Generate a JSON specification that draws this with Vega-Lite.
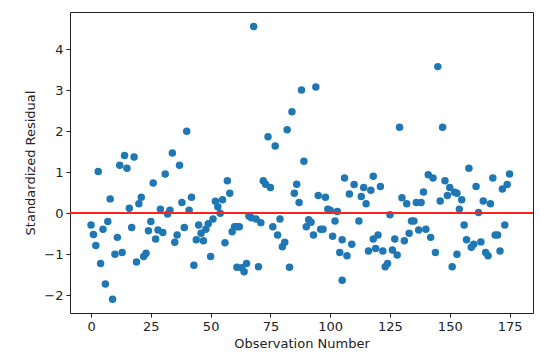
{
  "$schema": "https://vega.github.io/schema/vega-lite/v6.json",
  "width": 463,
  "height": 301,
  "autosize": {"type": "none"},
  "padding": {"left": 70, "top": 12, "right": 7, "bottom": 48},
  "background": "white",
  "config": {
    "view": {"stroke": "#222", "strokeWidth": 1},
    "font": "DejaVu Sans",
    "axis": {
      "domain": false,
      "grid": false,
      "ticks": true,
      "tickColor": "#222",
      "tickSize": 4,
      "labelFont": "DejaVu Sans",
      "labelFontSize": 13,
      "labelColor": "#222",
      "titleFont": "DejaVu Sans",
      "titleFontSize": 13,
      "titleFontWeight": "normal",
      "titleColor": "#222",
      "labelPadding": 3
    }
  },
  "data": {
    "values": [
      {"obs":0,"res":-0.29},{"obs":1,"res":-0.52},{"obs":2,"res":-0.79},{"obs":3,"res":1.02},{"obs":4,"res":-1.23},
      {"obs":5,"res":-0.39},{"obs":6,"res":-1.73},{"obs":7,"res":-0.2},{"obs":8,"res":0.35},{"obs":9,"res":-2.1},
      {"obs":10,"res":-1.0},{"obs":11,"res":-0.59},{"obs":12,"res":1.17},{"obs":13,"res":-0.96},{"obs":14,"res":1.41},
      {"obs":15,"res":1.1},{"obs":16,"res":0.12},{"obs":17,"res":-0.35},{"obs":18,"res":1.37},{"obs":19,"res":-1.19},
      {"obs":20,"res":0.23},{"obs":21,"res":0.39},{"obs":22,"res":-1.06},{"obs":23,"res":-0.98},{"obs":24,"res":-0.43},
      {"obs":25,"res":-0.2},{"obs":26,"res":0.74},{"obs":27,"res":-0.63},{"obs":28,"res":-0.41},{"obs":29,"res":0.1},
      {"obs":30,"res":-0.47},{"obs":31,"res":0.96},{"obs":32,"res":-0.02},{"obs":33,"res":0.07},{"obs":34,"res":1.47},
      {"obs":35,"res":-0.71},{"obs":36,"res":-0.53},{"obs":37,"res":1.17},{"obs":38,"res":0.26},{"obs":39,"res":-0.35},
      {"obs":40,"res":2.0},{"obs":41,"res":0.07},{"obs":42,"res":0.39},{"obs":43,"res":-1.27},{"obs":44,"res":-0.65},
      {"obs":45,"res":-0.29},{"obs":46,"res":-0.49},{"obs":47,"res":-0.67},{"obs":48,"res":-0.39},{"obs":49,"res":-0.26},
      {"obs":50,"res":-1.06},{"obs":51,"res":-0.14},{"obs":52,"res":0.29},{"obs":53,"res":0.16},{"obs":54,"res":0.0},
      {"obs":55,"res":0.33},{"obs":56,"res":-0.72},{"obs":57,"res":0.79},{"obs":58,"res":0.49},{"obs":59,"res":-0.45},
      {"obs":60,"res":-0.33},{"obs":61,"res":-1.32},{"obs":61,"res":-0.33},{"obs":62,"res":-0.33},{"obs":63,"res":-1.33},
      {"obs":64,"res":-1.43},{"obs":65,"res":-1.23},{"obs":66,"res":-0.07},{"obs":67,"res":-0.11},{"obs":68,"res":4.56},
      {"obs":69,"res":-0.14},{"obs":70,"res":-1.31},{"obs":71,"res":-0.23},{"obs":72,"res":0.79},{"obs":73,"res":0.71},
      {"obs":74,"res":1.87},{"obs":75,"res":0.63},{"obs":76,"res":-0.33},{"obs":77,"res":1.64},{"obs":78,"res":-0.53},
      {"obs":79,"res":-0.14},{"obs":80,"res":-0.82},{"obs":81,"res":-0.71},{"obs":82,"res":2.04},{"obs":83,"res":-1.32},
      {"obs":84,"res":2.48},{"obs":85,"res":0.49},{"obs":86,"res":0.71},{"obs":87,"res":0.26},{"obs":88,"res":3.01},
      {"obs":89,"res":1.27},{"obs":90,"res":-0.33},{"obs":91,"res":-0.16},{"obs":92,"res":-0.22},{"obs":93,"res":-0.53},
      {"obs":94,"res":3.08},{"obs":95,"res":0.43},{"obs":96,"res":-0.39},{"obs":97,"res":-0.39},{"obs":98,"res":0.39},
      {"obs":99,"res":0.1},{"obs":100,"res":0.07},{"obs":101,"res":-0.56},{"obs":102,"res":-0.19},{"obs":103,"res":0.04},
      {"obs":104,"res":-0.96},{"obs":105,"res":-0.65},{"obs":105,"res":-1.64},{"obs":106,"res":0.86},{"obs":107,"res":-1.04},
      {"obs":108,"res":0.47},{"obs":109,"res":-0.76},{"obs":110,"res":0.7},{"obs":112,"res":-0.19},{"obs":113,"res":0.41},
      {"obs":114,"res":0.63},{"obs":115,"res":0.23},{"obs":116,"res":-0.92},{"obs":117,"res":0.56},{"obs":118,"res":-0.63},
      {"obs":118,"res":0.9},{"obs":119,"res":-0.86},{"obs":120,"res":-0.53},{"obs":121,"res":0.65},{"obs":122,"res":-0.92},
      {"obs":123,"res":-1.31},{"obs":124,"res":-1.23},{"obs":125,"res":-0.04},{"obs":126,"res":-0.9},{"obs":127,"res":-0.63},
      {"obs":128,"res":-1.02},{"obs":129,"res":2.1},{"obs":130,"res":0.38},{"obs":131,"res":-0.67},{"obs":132,"res":0.23},
      {"obs":133,"res":-0.49},{"obs":134,"res":-0.19},{"obs":135,"res":-0.19},{"obs":136,"res":0.26},{"obs":137,"res":-0.41},
      {"obs":138,"res":0.26},{"obs":139,"res":0.52},{"obs":140,"res":-0.39},{"obs":141,"res":0.94},{"obs":142,"res":-0.59},
      {"obs":143,"res":0.86},{"obs":144,"res":-0.96},{"obs":145,"res":3.58},{"obs":146,"res":0.3},{"obs":147,"res":2.1},
      {"obs":148,"res":0.79},{"obs":149,"res":0.43},{"obs":150,"res":0.63},{"obs":151,"res":-1.31},{"obs":152,"res":0.51},
      {"obs":153,"res":-1.0},{"obs":153,"res":0.49},{"obs":154,"res":0.1},{"obs":155,"res":0.33},{"obs":156,"res":-0.29},
      {"obs":157,"res":-0.65},{"obs":158,"res":1.1},{"obs":159,"res":-0.83},{"obs":160,"res":-0.76},{"obs":161,"res":0.65},
      {"obs":162,"res":0.02},{"obs":163,"res":-0.7},{"obs":164,"res":0.3},{"obs":165,"res":-0.96},{"obs":166,"res":-1.04},
      {"obs":167,"res":0.23},{"obs":168,"res":0.86},{"obs":169,"res":-0.53},{"obs":170,"res":-0.53},{"obs":171,"res":-0.92},
      {"obs":172,"res":0.59},{"obs":173,"res":-0.29},{"obs":174,"res":0.7},{"obs":175,"res":0.96}
    ]
  },
  "layer": [
    {
      "mark": {"type": "circle", "size": 56, "color": "#1f77b4", "opacity": 1},
      "encoding": {
        "x": {
          "field": "obs",
          "type": "quantitative",
          "scale": {"domain": [-8.8, 184.8], "nice": false, "zero": false},
          "axis": {"values": [0, 25, 50, 75, 100, 125, 150, 175], "title": "Observation Number", "titlePadding": 4}
        },
        "y": {
          "field": "res",
          "type": "quantitative",
          "scale": {"domain": [-2.437, 4.914], "nice": false, "zero": false},
          "axis": {"values": [-2, -1, 0, 1, 2, 3, 4], "title": "Standardized Residual", "titlePadding": 6}
        }
      }
    },
    {
      "mark": {"type": "rule", "color": "#ff2020", "strokeWidth": 1.6},
      "encoding": {"y": {"datum": 0}}
    }
  ]
}
